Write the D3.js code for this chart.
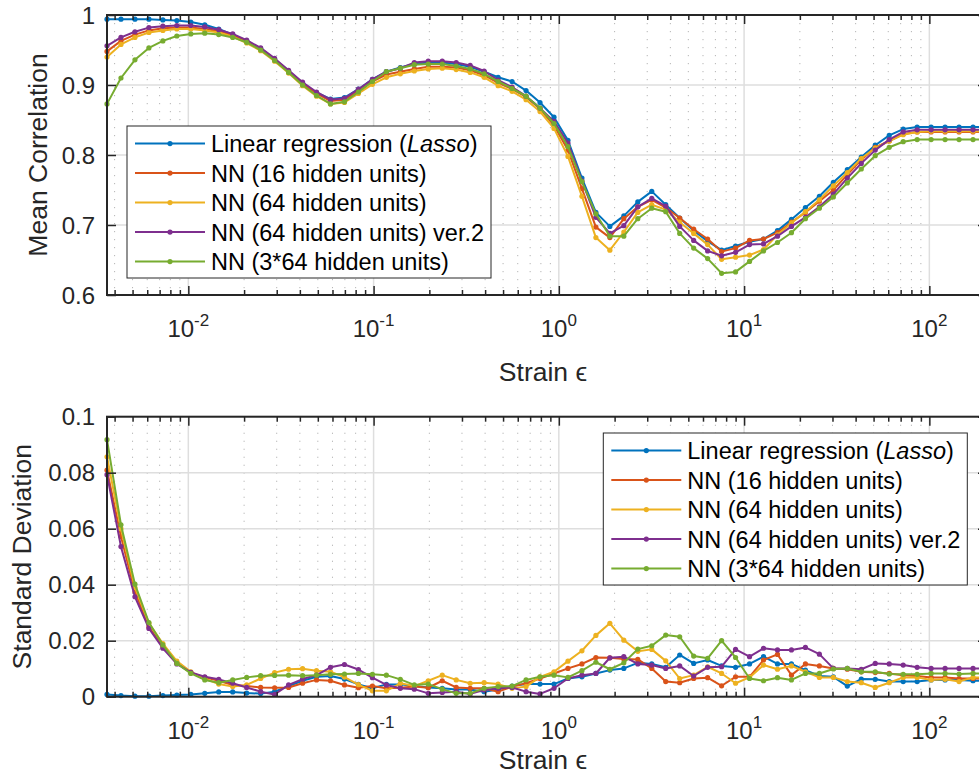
<!DOCTYPE html>
<html>
<head>
<meta charset="utf-8">
<script src="https://cdn.jsdelivr.net/npm/d3@7"></script>
<style>
body { margin: 0; background: #fff; }
text { font-family: "Liberation Sans", Arial, sans-serif; }
</style>
</head>
<body>
<svg id="chart" width="979" height="778"></svg>
<script>
// strain grid (log spaced, like logspace in matlab)
var strain = d3.range(64).map(function(i) { return Math.pow(10, -2.439 + i * 0.0754); });

var names = ["Linear regression (Lasso)", "NN (16 hidden units)", "NN (64 hidden units)",
	"NN (64 hidden units) ver.2", "NN (3*64 hidden units)"];
var colors = ["#0072BD", "#D95319", "#EDB120", "#7E2F8E", "#77AC30"];

// mean correlation
var corrLasso = [0.994,0.994,0.994,0.994,0.993,0.992,0.990,0.986,0.980,0.972,0.963,0.952,0.937,0.920,0.903,0.889,0.880,0.882,0.894,0.908,
	0.919,0.925,0.930,0.932,0.932,0.930,0.926,0.919,0.911,0.905,0.892,0.875,0.854,0.821,0.767,0.718,0.698,0.713,0.733,0.748,
	0.729,0.710,0.692,0.677,0.664,0.670,0.676,0.680,0.692,0.708,0.725,0.741,0.761,0.779,0.797,0.814,0.828,0.837,0.840,0.840,
	0.840,0.840,0.840,0.840];
var corrNN16 = [0.948,0.963,0.972,0.978,0.981,0.982,0.982,0.980,0.977,0.971,0.962,0.951,0.936,0.919,0.902,0.888,0.877,0.879,0.891,0.905,
	0.915,0.919,0.923,0.926,0.926,0.925,0.921,0.914,0.903,0.894,0.883,0.866,0.842,0.807,0.752,0.697,0.682,0.709,0.726,0.736,
	0.725,0.710,0.694,0.680,0.662,0.667,0.678,0.680,0.689,0.704,0.718,0.734,0.750,0.772,0.793,0.811,0.820,0.830,0.833,0.833,
	0.833,0.833,0.833,0.833];
var corrNN64 = [0.940,0.958,0.968,0.975,0.978,0.980,0.980,0.978,0.975,0.969,0.960,0.949,0.934,0.917,0.899,0.884,0.873,0.875,0.888,0.901,
	0.911,0.916,0.920,0.923,0.924,0.922,0.918,0.911,0.899,0.891,0.879,0.862,0.838,0.798,0.741,0.682,0.664,0.690,0.718,0.729,
	0.722,0.704,0.688,0.672,0.651,0.654,0.657,0.665,0.686,0.703,0.719,0.736,0.756,0.775,0.795,0.810,0.820,0.829,0.833,0.834,
	0.834,0.834,0.834,0.834];
var corrNN64v2 = [0.956,0.968,0.976,0.982,0.984,0.985,0.985,0.983,0.979,0.973,0.964,0.953,0.938,0.921,0.904,0.890,0.879,0.881,0.894,0.908,
	0.919,0.924,0.932,0.934,0.934,0.932,0.928,0.920,0.907,0.897,0.884,0.867,0.848,0.817,0.763,0.711,0.688,0.699,0.726,0.738,
	0.727,0.698,0.678,0.663,0.656,0.661,0.672,0.673,0.684,0.698,0.711,0.726,0.744,0.767,0.788,0.807,0.822,0.833,0.836,0.836,
	0.836,0.836,0.836,0.836];
var corrNN3x64 = [0.873,0.910,0.936,0.953,0.963,0.970,0.973,0.974,0.972,0.968,0.961,0.950,0.935,0.918,0.900,0.885,0.873,0.876,0.890,0.905,
	0.919,0.924,0.929,0.930,0.930,0.927,0.923,0.916,0.905,0.895,0.884,0.867,0.845,0.812,0.762,0.716,0.684,0.684,0.709,0.724,
	0.719,0.688,0.667,0.652,0.631,0.633,0.648,0.663,0.675,0.689,0.709,0.724,0.740,0.760,0.780,0.799,0.811,0.819,0.822,0.822,
	0.822,0.822,0.822,0.822];

// standard deviation
var stdLasso = [0.0008,0.0004,0.0002,0.0002,0.0004,0.0006,0.0008,0.0012,0.0017,0.0017,0.0013,0.0011,0.0018,0.0038,0.0057,0.0071,0.0074,0.0063,0.0044,0.0030,
	0.0044,0.0044,0.0038,0.0033,0.0030,0.0026,0.0026,0.0018,0.0026,0.0038,0.0045,0.0045,0.0045,0.0065,0.0071,0.0083,0.0095,0.0101,0.0121,0.0117,
	0.0105,0.0149,0.0119,0.0131,0.0110,0.0105,0.0117,0.0143,0.0117,0.0117,0.0095,0.0074,0.0071,0.0038,0.0063,0.0062,0.0054,0.0054,0.0054,0.0060,
	0.0060,0.0060,0.0057,0.0057];
var stdNN16 = [0.0809,0.0572,0.0375,0.0250,0.0179,0.0121,0.0086,0.0069,0.0057,0.0042,0.0038,0.0033,0.0032,0.0033,0.0048,0.0060,0.0057,0.0042,0.0032,0.0038,
	0.0030,0.0032,0.0036,0.0032,0.0057,0.0033,0.0030,0.0030,0.0018,0.0036,0.0048,0.0065,0.0083,0.0101,0.0117,0.0140,0.0139,0.0135,0.0133,0.0101,
	0.0054,0.0050,0.0065,0.0068,0.0039,0.0071,0.0071,0.0131,0.0151,0.0077,0.0117,0.0110,0.0101,0.0098,0.0089,0.0086,0.0083,0.0077,0.0074,0.0069,
	0.0069,0.0065,0.0065,0.0065];
var stdNN64 = [0.0857,0.0600,0.0390,0.0262,0.0190,0.0127,0.0089,0.0065,0.0045,0.0036,0.0042,0.0065,0.0086,0.0098,0.0100,0.0093,0.0089,0.0070,0.0043,0.0021,
	0.0021,0.0048,0.0038,0.0057,0.0077,0.0060,0.0048,0.0050,0.0045,0.0030,0.0036,0.0071,0.0089,0.0127,0.0164,0.0219,0.0262,0.0202,0.0162,0.0169,
	0.0128,0.0065,0.0077,0.0107,0.0083,0.0048,0.0069,0.0113,0.0098,0.0110,0.0089,0.0069,0.0069,0.0054,0.0050,0.0033,0.0050,0.0069,0.0069,0.0060,
	0.0062,0.0054,0.0069,0.0069];
var stdNN64v2 = [0.0793,0.0536,0.0357,0.0244,0.0173,0.0117,0.0087,0.0071,0.0062,0.0048,0.0033,0.0018,0.0008,0.0042,0.0063,0.0077,0.0105,0.0115,0.0097,0.0068,
	0.0042,0.0030,0.0027,0.0012,0.0015,0.0018,0.0010,0.0024,0.0030,0.0033,0.0018,0.0010,0.0030,0.0065,0.0077,0.0083,0.0139,0.0143,0.0117,0.0113,
	0.0101,0.0110,0.0074,0.0105,0.0107,0.0169,0.0143,0.0173,0.0167,0.0167,0.0176,0.0152,0.0101,0.0101,0.0098,0.0119,0.0117,0.0113,0.0105,0.0101,
	0.0101,0.0101,0.0101,0.0101];
var stdNN3x64 = [0.0918,0.0614,0.0402,0.0265,0.0185,0.0119,0.0083,0.0060,0.0050,0.0060,0.0069,0.0075,0.0076,0.0077,0.0075,0.0077,0.0080,0.0081,0.0083,0.0080,
	0.0077,0.0062,0.0042,0.0045,0.0027,0.0012,0.0012,0.0030,0.0036,0.0038,0.0060,0.0071,0.0077,0.0069,0.0093,0.0123,0.0098,0.0121,0.0170,0.0182,
	0.0220,0.0214,0.0145,0.0137,0.0200,0.0140,0.0065,0.0057,0.0068,0.0060,0.0083,0.0083,0.0099,0.0101,0.0089,0.0089,0.0081,0.0080,0.0080,0.0083,
	0.0083,0.0081,0.0083,0.0083];

var corrTicks = [0.6, 0.7, 0.8, 0.9, 1];
var stdTicks = [0, 0.02, 0.04, 0.06, 0.08, 0.1];
var decades = [-2, -1, 0, 1, 2];

var svg = d3.select("#chart");
var left = 107, right = 987;
var axisCol = "#262626";

var x = d3.scaleLog()
	.domain([strain[0], strain[strain.length - 1]])
	.range([left, right]);

var minorTicks = [];
[-3, -2, -1, 0, 1, 2].forEach(function(e) {
	for (var k = 2; k <= 9; k++) {
		var v = k * Math.pow(10, e);
		if (v > x.domain()[0] && v < x.domain()[1]) minorTicks.push(v);
	}
});
var majorTicks = decades.map(function(e) { return Math.pow(10, e); });

function drawPanel(opt) {
	var y = d3.scaleLinear().domain(opt.domain).range([opt.bottom, opt.top]);
	var g = svg.append("g");

	// grid
	g.selectAll(".minor").data(minorTicks).enter().append("line")
		.attr("x1", function(d) { return x(d); }).attr("x2", function(d) { return x(d); })
		.attr("y1", opt.top).attr("y2", opt.bottom)
		.style("stroke", "#b5b5b5").style("stroke-width", 1)
		.style("stroke-dasharray", "1.2,6.8");
	g.selectAll(".vmaj").data(majorTicks).enter().append("line")
		.attr("x1", function(d) { return x(d); }).attr("x2", function(d) { return x(d); })
		.attr("y1", opt.top).attr("y2", opt.bottom)
		.style("stroke", "#dedede").style("stroke-width", 1.5);
	g.selectAll(".hmaj").data(opt.ticks).enter().append("line")
		.attr("x1", left).attr("x2", right)
		.attr("y1", function(d) { return y(d); }).attr("y2", function(d) { return y(d); })
		.style("stroke", "#dedede").style("stroke-width", 1.5);

	// series
	var line = d3.line()
		.x(function(d, i) { return x(strain[i]); })
		.y(function(d) { return y(d); });

	opt.series.forEach(function(s, k) {
		g.append("path")
			.attr("d", line(s))
			.style("fill", "none")
			.style("stroke", colors[k])
			.style("stroke-width", 2)
			.style("stroke-linejoin", "round");
		g.selectAll(".dot" + k).data(s).enter().append("circle")
			.attr("cx", function(d, i) { return x(strain[i]); })
			.attr("cy", function(d) { return y(d); })
			.attr("r", 2.6)
			.style("fill", colors[k]);
	});

	// ticks on all four sides
	function ticks(axis, tr) {
		var a = g.append("g").attr("transform", tr).call(axis);
		a.select(".domain").remove();
		a.selectAll("line").style("stroke", axisCol).style("stroke-width", 1.5);
	}
	ticks(d3.axisBottom(x).tickValues(majorTicks).tickSize(-9).tickFormat(""), "translate(0," + opt.bottom + ")");
	ticks(d3.axisBottom(x).tickValues(minorTicks).tickSize(-5).tickFormat(""), "translate(0," + opt.bottom + ")");
	ticks(d3.axisTop(x).tickValues(majorTicks).tickSize(-9).tickFormat(""), "translate(0," + opt.top + ")");
	ticks(d3.axisTop(x).tickValues(minorTicks).tickSize(-5).tickFormat(""), "translate(0," + opt.top + ")");
	ticks(d3.axisLeft(y).tickValues(opt.ticks).tickSize(-9).tickFormat(""), "translate(" + left + ",0)");
	ticks(d3.axisRight(y).tickValues(opt.ticks).tickSize(-9).tickFormat(""), "translate(" + right + ",0)");

	g.append("rect")
		.attr("x", left).attr("y", opt.top)
		.attr("width", right - left).attr("height", opt.bottom - opt.top)
		.style("fill", "none").style("stroke", axisCol).style("stroke-width", 2);

	// tick labels
	g.selectAll(".ylab").data(opt.ticks).enter().append("text")
		.attr("x", left - 12).attr("y", function(d) { return y(d) + 8.5; })
		.attr("text-anchor", "end")
		.style("font-size", "24px").style("fill", axisCol)
		.text(function(d) { return String(d); });

	var xl = g.selectAll(".xlab").data(decades).enter().append("text")
		.attr("x", function(d) { return x(Math.pow(10, d)); })
		.attr("y", opt.bottom + 42)
		.attr("text-anchor", "middle")
		.style("font-size", "24px").style("fill", axisCol);
	xl.append("tspan").text("10");
	xl.append("tspan").attr("dy", -11).style("font-size", "17px")
		.text(function(d) { return d < 0 ? "-" + (-d) : String(d); });

	// axis labels
	g.append("text")
		.attr("x", (left + right) / 2 - 4).attr("y", opt.xlabelY)
		.attr("text-anchor", "middle")
		.style("font-size", "26.5px").style("fill", axisCol)
		.text("Strain \u03f5");
	g.append("text")
		.attr("transform", "translate(" + opt.ylabelX + "," + (opt.top + opt.bottom) / 2 + ") rotate(-90)")
		.attr("text-anchor", "middle")
		.style("font-size", "26.5px").style("fill", axisCol)
		.text(opt.ylabel);

	// legend
	var lg = g.append("g").attr("transform", "translate(" + opt.legend[0] + "," + opt.legend[1] + ")");
	lg.append("rect").attr("width", 364).attr("height", 152)
		.style("fill", "#fff").style("stroke", axisCol).style("stroke-width", 1);
	names.forEach(function(n, k) {
		var cy = 17.6 + 29.5 * k;
		lg.append("line").attr("x1", 8).attr("x2", 78).attr("y1", cy).attr("y2", cy)
			.style("stroke", colors[k]).style("stroke-width", 2);
		lg.append("circle").attr("cx", 43).attr("cy", cy).attr("r", 2.6).style("fill", colors[k]);
		var t = lg.append("text").attr("x", 84).attr("y", cy + 8.4)
			.style("font-size", "23.5px").style("fill", "#000");
		if (k === 0) {
			t.append("tspan").text("Linear regression (");
			t.append("tspan").style("font-style", "italic").text("Lasso");
			t.append("tspan").text(")");
		} else {
			t.text(n);
		}
	});
}

drawPanel({
	top: 15, bottom: 295, domain: [0.6, 1], ticks: corrTicks,
	series: [corrLasso, corrNN16, corrNN64, corrNN64v2, corrNN3x64],
	ylabel: "Mean Correlation", ylabelX: 47, xlabelY: 381,
	legend: [127, 126]
});

drawPanel({
	top: 416.7, bottom: 696.7, domain: [0, 0.1], ticks: stdTicks,
	series: [stdLasso, stdNN16, stdNN64, stdNN64v2, stdNN3x64],
	ylabel: "Standard Deviation", ylabelX: 31, xlabelY: 769,
	legend: [603.3, 433]
});
</script>
</body>
</html>
